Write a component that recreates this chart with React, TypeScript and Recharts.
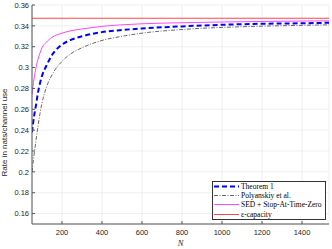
import { LineChart, Line, XAxis, YAxis, CartesianGrid } from "recharts";

const blocklengths = [50, 55, 60, 70, 80, 90, 100, 120, 150, 200, 250, 300, 400, 500, 600, 800, 1000, 1200, 1400, 1535];
const theorem1 = [0.238, 0.246, 0.253, 0.264, 0.276, 0.285, 0.292, 0.301, 0.312, 0.322, 0.327, 0.330, 0.334, 0.336, 0.3375, 0.3395, 0.341, 0.342, 0.3425, 0.343];
const polyanskiy = [0.200, 0.208, 0.216, 0.230, 0.244, 0.256, 0.266, 0.280, 0.293, 0.306, 0.314, 0.319, 0.326, 0.330, 0.333, 0.3365, 0.3385, 0.3397, 0.3405, 0.341];
const sedStopAtZero = [0.274, 0.282, 0.289, 0.300, 0.308, 0.314, 0.319, 0.324, 0.329, 0.333, 0.3355, 0.337, 0.3395, 0.341, 0.342, 0.343, 0.3437, 0.3442, 0.3446, 0.3448];
const epsCapacity = 0.3473;

const xTicks = [200, 400, 600, 800, 1000, 1200, 1400];
const yTicks = [0.16, 0.18, 0.2, 0.22, 0.24, 0.26, 0.28, 0.3, 0.32, 0.34, 0.36];
const xDomain = [50, 1535];
const yDomain = [0.15, 0.36];

const seriesInfo = [
  { key: "thm", name: "Theorem 1", color: "#0000ff", width: 2, dash: "5 3" },
  { key: "poly", name: "Polyanskiy et al.", color: "#444444", width: 0.8, dash: "4 1.5 1 1.5" },
  { key: "sed", name: "SED + Stop-At-Time-Zero", color: "#ff33ff", width: 0.9, dash: undefined },
  { key: "cap", name: "\u03b5-capacity", color: "#ff3333", width: 0.9, dash: undefined },
];

const data = blocklengths.map((n, i) => ({
  n,
  thm: theorem1[i],
  poly: polyanskiy[i],
  sed: sedStopAtZero[i],
  cap: epsCapacity,
}));

const tickStyle = { fontSize: 7.5, fill: "#262626", fontFamily: "'Liberation Sans', Arial, sans-serif" };
const axisColor = "#555555";

// legend drawn as an overlay so it doesn't eat plot space
const LegendBox = () => (
  <div style={{ position: "absolute", left: 212, top: 181, border: "0.5px solid #333", background: "#fff", padding: "0px 3px 0px 1px", fontFamily: "'Liberation Serif', 'Times New Roman', serif", fontSize: 7.5, color: "#000" }}>
    {seriesInfo.map((s) => (
      <div key={s.key} style={{ display: "flex", alignItems: "center", height: 9.2, lineHeight: "9.2px", overflow: "hidden" }}>
        <svg width={25} height={9} style={{ marginRight: 2, flex: "none" }}>
          <line x1={0} x2={25} y1={4.5} y2={4.5} stroke={s.color} strokeWidth={s.width} strokeDasharray={s.dash} />
        </svg>
        <span style={{ whiteSpace: "nowrap", lineHeight: "9.2px" }}>{s.name}</span>
      </div>
    ))}
  </div>
);

export default function App() {
  return (
    <div style={{ position: "absolute", left: 0, top: 0, width: 332, height: 249, background: "#fff" }}>
      <LineChart width={332} height={249} data={data} margin={{ top: 5, right: 3, left: 0, bottom: 0 }}>
        <CartesianGrid stroke="#ebebeb" strokeWidth={0.8} />
        <XAxis dataKey="n" type="number" domain={xDomain} ticks={xTicks} allowDataOverflow height={25}
          tick={tickStyle} tickSize={-3} tickMargin={9} stroke={axisColor} interval={0}
          label={{ value: "N", position: "insideBottom", offset: 3, style: { fontSize: 8.5, fontStyle: "italic", fontFamily: "'Liberation Serif', serif", fill: "#262626" } }} />
        <XAxis xAxisId="top" dataKey="n" type="number" orientation="top" domain={xDomain} ticks={xTicks} allowDataOverflow height={0}
          tickFormatter={() => ""} tickSize={-3} stroke={axisColor} interval={0} />
        <YAxis type="number" domain={yDomain} ticks={yTicks} allowDataOverflow width={32}
          tick={tickStyle} tickSize={-3} tickMargin={6} stroke={axisColor} interval={0}
          label={{ value: "Rate in nats/channel use", angle: -90, position: "insideLeft", offset: 0, dx: 4, dy: 62, style: { fontSize: 8, fontFamily: "'Liberation Sans', Arial, sans-serif", fill: "#262626" } }} />
        <YAxis yAxisId="right" orientation="right" type="number" domain={yDomain} ticks={yTicks} allowDataOverflow width={0}
          tickFormatter={() => ""} tickSize={-3} stroke={axisColor} interval={0} />
        <Line dataKey="cap" stroke="#ff3333" strokeWidth={0.9} dot={false} isAnimationActive={false} />
        <Line dataKey="poly" type="monotone" stroke="#444444" strokeWidth={0.8} strokeDasharray="4 1.5 1 1.5" dot={false} isAnimationActive={false} />
        <Line dataKey="sed" type="monotone" stroke="#ff33ff" strokeWidth={0.9} dot={false} isAnimationActive={false} />
        <Line dataKey="thm" type="monotone" stroke="#0000ff" strokeWidth={2} strokeDasharray="5 3" dot={false} isAnimationActive={false} />
      </LineChart>
      <LegendBox />
    </div>
  );
}
